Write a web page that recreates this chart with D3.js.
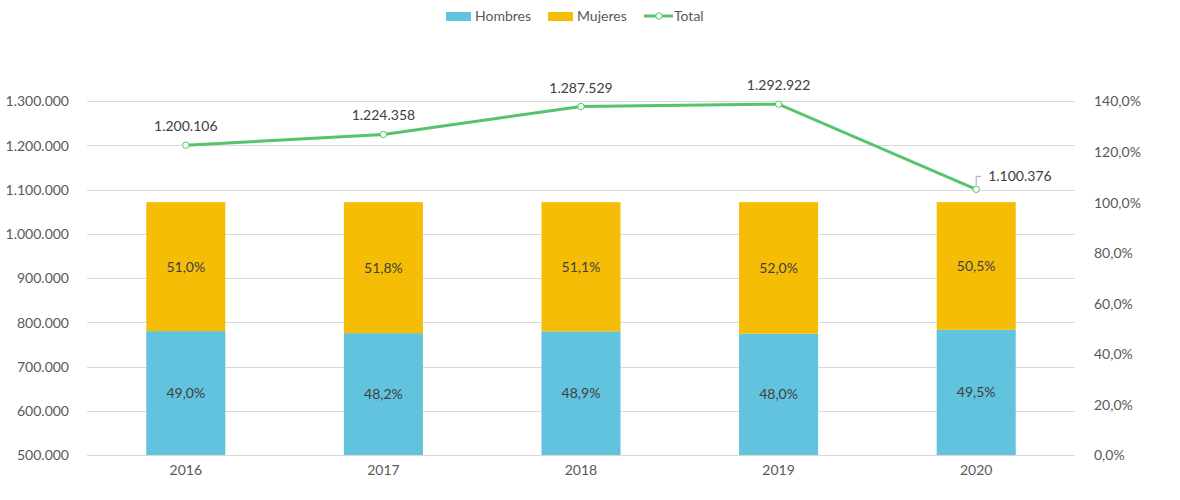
<!DOCTYPE html>
<html><head><meta charset="utf-8">
<script src="https://cdn.jsdelivr.net/npm/d3@7"></script>
<style>body{margin:0;background:#fff}svg{display:block}text{font-family:Lato,"Liberation Sans",sans-serif;fill:#595959}</style>
</head><body><svg id="c" width="1180" height="500"></svg>
<script>
const years = ["2016","2017","2018","2019","2020"];
const hombres = [49.0, 48.2, 48.9, 48.0, 49.5];
const mujeres = [51.0, 51.8, 51.1, 52.0, 50.5];
const total = [1200106, 1224358, 1287529, 1292922, 1100376];
const leftTicks = [500000,600000,700000,800000,900000,1000000,1100000,1200000,1300000];
const rightTicks = [0,20,40,60,80,100,120,140];

const svg = d3.select("#c");
const L=87,R=1075,T=101,B=455;
const x = d3.scaleBand().domain(years).range([L,R]).paddingInner(0.6).paddingOuter(0.3);
const yL = d3.scaleLinear().domain([500000,1300000]).range([B,T]);
const yR = d3.scaleLinear().domain([0,140]).range([B,T]);
const fmtN = v => d3.format(",")(v).replace(/,/g,".");
const fmtP = v => d3.format(".1f")(v).replace(".",",")+"%";

// gridlines
svg.append("g").selectAll("line").data(leftTicks).join("line")
  .attr("x1",L).attr("x2",R).attr("y1",d=>Math.round(yL(d))+0.5).attr("y2",d=>Math.round(yL(d))+0.5)
  .attr("stroke","#d9d9d9").attr("stroke-width",1);

// left axis
const la = svg.append("g").attr("transform",`translate(${L-15},0)`)
  .call(d3.axisLeft(yL).tickValues(leftTicks).tickFormat(fmtN).tickSize(0));
la.select(".domain").remove();
la.selectAll("text").attr("font-size",14).attr("dy","0.35em").style("fill","#595959");

// right axis
const ra = svg.append("g").attr("transform",`translate(${R+16},0)`)
  .call(d3.axisRight(yR).tickValues(rightTicks).tickFormat(fmtP).tickSize(0));
ra.select(".domain").remove();
ra.selectAll("text").attr("font-size",14).attr("dy","0.35em").style("fill","#595959");

// x axis labels
svg.append("g").selectAll("text").data(years).join("text")
  .attr("x",d=>x(d)+x.bandwidth()/2).attr("y",B+20).attr("text-anchor","middle")
  .attr("font-size",14).text(d=>d);

// bars
const g = svg.append("g");
years.forEach((yr,i)=>{
  g.append("rect").attr("x",x(yr)).attr("width",x.bandwidth())
    .attr("y",yR(hombres[i])).attr("height",yR(0)-yR(hombres[i])).attr("fill","#62c3de");
  g.append("rect").attr("x",x(yr)).attr("width",x.bandwidth())
    .attr("y",yR(hombres[i]+mujeres[i])).attr("height",yR(hombres[i])-yR(hombres[i]+mujeres[i])).attr("fill","#f5bd06");
  g.append("text").attr("x",x(yr)+x.bandwidth()/2).attr("y",(yR(0)+yR(hombres[i]))/2).attr("dy","0.35em")
    .attr("text-anchor","middle").attr("font-size",14).style("fill","#404040").text(fmtP(hombres[i]));
  g.append("text").attr("x",x(yr)+x.bandwidth()/2).attr("y",(yR(hombres[i])+yR(hombres[i]+mujeres[i]))/2).attr("dy","0.35em")
    .attr("text-anchor","middle").attr("font-size",14).style("fill","#404040").text(fmtP(mujeres[i]));
});

// line
const cx = d=>x(d)+x.bandwidth()/2;
const line = d3.line().x((d,i)=>cx(years[i])).y(d=>yL(d));
svg.append("path").datum(total).attr("d",line).attr("fill","none").attr("stroke","#55c46a").attr("stroke-width",3);
svg.append("g").selectAll("circle").data(total).join("circle")
  .attr("cx",(d,i)=>cx(years[i])).attr("cy",d=>yL(d)).attr("r",3.2)
  .attr("fill","#fff").attr("stroke","#55c46a").attr("stroke-width",1);
// labels
total.forEach((v,i)=>{
  if(i<4){
    svg.append("text").attr("x",cx(years[i])).attr("y",yL(v)-14).attr("text-anchor","middle")
      .attr("font-size",14).style("fill","#404040").text(fmtN(v));
  } else {
    const px=cx(years[i]), py=yL(v);
    svg.append("path").attr("d",`M${px},${py-4}V${py-13}H${px+5}`).attr("fill","none").attr("stroke","#a6a6a6").attr("stroke-width",1);
    svg.append("text").attr("x",px+12).attr("y",py-13).attr("dy","0.35em")
      .attr("font-size",14).style("fill","#404040").text(fmtN(v));
  }
});

// legend
const lg = svg.append("g");
lg.append("rect").attr("x",446).attr("y",12).attr("width",25).attr("height",9).attr("fill","#62c3de");
lg.append("text").attr("x",475).attr("y",16).attr("dy","0.35em").attr("font-size",14).text("Hombres");
lg.append("rect").attr("x",548).attr("y",12).attr("width",25).attr("height",9).attr("fill","#f5bd06");
lg.append("text").attr("x",577).attr("y",16).attr("dy","0.35em").attr("font-size",14).text("Mujeres");
lg.append("line").attr("x1",644).attr("x2",673).attr("y1",16).attr("y2",16).attr("stroke","#55c46a").attr("stroke-width",3);
lg.append("circle").attr("cx",659).attr("cy",16).attr("r",3.2).attr("fill","#fff").attr("stroke","#55c46a");
lg.append("text").attr("x",674).attr("y",16).attr("dy","0.35em").attr("font-size",14).text("Total");
</script></body></html>
